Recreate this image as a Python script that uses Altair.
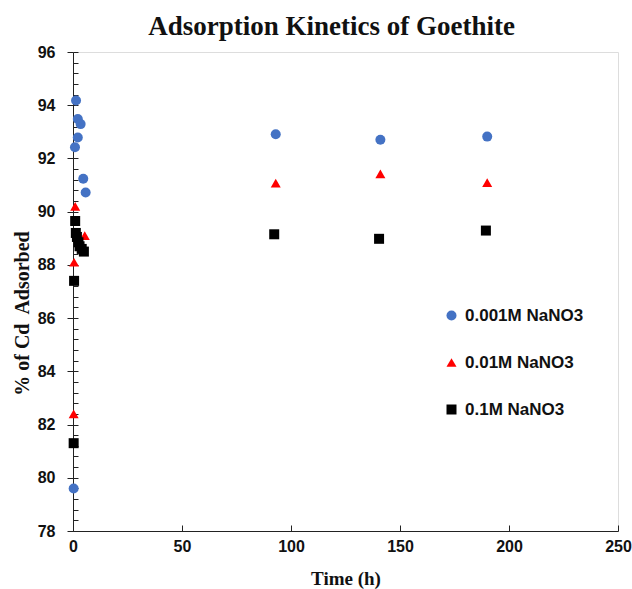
import altair as alt
import pandas as pd

# Cd adsorption on goethite at three NaNO3 ionic strengths
series_names = ["0.001M NaNO3", "0.01M NaNO3", "0.1M NaNO3"]
series_colors = ["#4472C4", "#FF0000", "#000000"]
series_shapes = ["circle", "triangle-up", "square"]

t_001 = [0.3, 0.9, 1.4, 2.2, 2.2, 3.5, 4.7, 5.8, 93, 141, 190]
cd_001 = [79.6, 92.42, 94.18, 93.48, 92.79, 93.29, 91.24, 90.72, 92.91, 92.7, 92.82]

t_01 = [0.3, 0.5, 1.0, 5.4, 93, 141, 190]
cd_01 = [82.4, 88.1, 90.2, 89.1, 91.07, 91.42, 91.09]

t_1 = [0.3, 0.5, 1.0, 1.3, 1.8, 2.5, 3.0, 4.0, 5.0, 92.3, 140.4, 189.4]
cd_1 = [81.3, 87.4, 89.65, 89.2, 89.05, 88.85, 88.7, 88.6, 88.5, 89.15, 88.98, 89.29]

x_ticks = [0, 50, 100, 150, 200, 250]
y_ticks = [78, 80, 82, 84, 86, 88, 90, 92, 94, 96]
y_minor = [round(78 + 0.4 * i, 1) for i in range(46)]

W, H = 545, 479

frames = []
for name, ts, vs in [(series_names[0], t_001, cd_001),
                     (series_names[1], t_01, cd_01),
                     (series_names[2], t_1, cd_1)]:
    frames.append(pd.DataFrame({"time": ts, "cd": vs, "series": name}))
df = pd.concat(frames, ignore_index=True)

x_scale = alt.Scale(domain=[0, 250], nice=False, zero=False)
y_scale = alt.Scale(domain=[78, 96], nice=False, zero=False)

sans = "Liberation Sans"
serif = "Liberation Serif"

points = alt.Chart(df).mark_point(filled=True, size=100, opacity=1).encode(
    x=alt.X("time:Q", scale=x_scale,
            axis=alt.Axis(values=x_ticks, tickSize=0, labelPadding=7, labelFlush=False,
                          labelFont=sans, labelFontSize=16, labelFontWeight="bold",
                          labelColor="#111", domainColor="#222", grid=False,
                          title="Time (h)", titleFont=serif, titleFontSize=19,
                          titleFontWeight="bold", titleColor="#111", titlePadding=15)),
    y=alt.Y("cd:Q", scale=y_scale,
            axis=alt.Axis(values=y_ticks, tickSize=6, tickColor="#222", labelPadding=12,
                          labelFlush=False,
                          labelFont=sans, labelFontSize=16, labelFontWeight="bold",
                          labelColor="#111", domainColor="#222", grid=False,
                          title="% of Cd\u00a0 Adsorbed", titleFont=serif, titleFontSize=20,
                          titleFontWeight="bold", titleColor="#111", titlePadding=5,
                          titleY=261)),
    color=alt.Color("series:N", sort=series_names,
                    scale=alt.Scale(domain=series_names, range=series_colors),
                    legend=alt.Legend(title=None, orient="none", legendX=370, legendY=255,
                                      symbolSize=100, labelFont=sans, labelFontSize=17,
                                      labelFontWeight="bold", labelColor="#111",
                                      labelOffset=5, rowPadding=29, padding=0)),
    shape=alt.Shape("series:N", sort=series_names,
                    scale=alt.Scale(domain=series_names, range=series_shapes)),
)

# inward tick marks: x majors pointing up from the bottom edge, y minors pointing right
inner_ticks = alt.Chart(df).mark_point(opacity=0).encode(
    x=alt.X("time:Q", scale=x_scale,
            axis=alt.Axis(orient="top", offset=-H, values=x_ticks, tickSize=6,
                          tickColor="#222", labels=False, domain=False, grid=False,
                          title=None)),
    y=alt.Y("cd:Q", scale=y_scale,
            axis=alt.Axis(orient="right", offset=-W, values=y_minor, tickSize=5,
                          tickColor="#222", labels=False, domain=False, grid=False,
                          title=None)),
)

chart = alt.layer(points, inner_ticks).resolve_axis(
    x="independent", y="independent"
).properties(
    width=W, height=H,
    title=alt.TitleParams("Adsorption Kinetics of Goethite", font=serif, fontSize=27,
                          fontWeight="bold", color="#111", anchor="middle",
                          frame="group", offset=3, dx=-14),
    autosize=alt.AutoSizeParams(type="none"),
    padding={"left": 73, "top": 52, "right": 14, "bottom": 58},
).configure_view(stroke="#333", strokeWidth=1.2).configure(background="white")

chart.save("out.html", embed_options={"renderer": "svg", "actions": False})
